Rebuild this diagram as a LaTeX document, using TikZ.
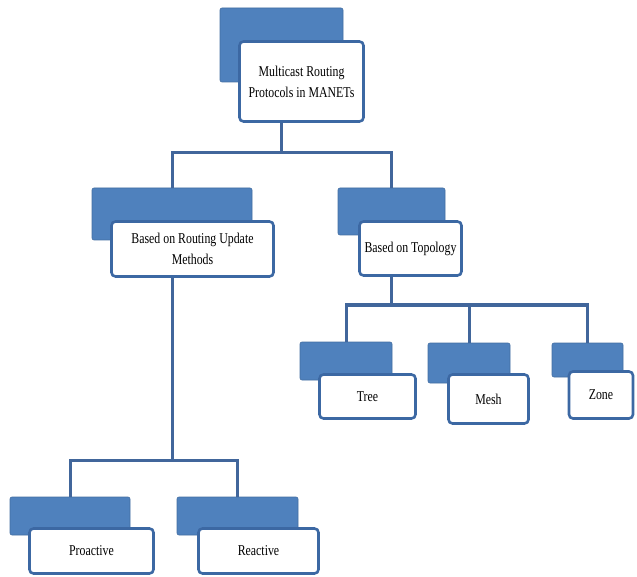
\documentclass[tikz,border=0pt]{standalone}
\usepackage{fontspec}
\usepackage{tikz}
\usetikzlibrary{calc, positioning}
\newfontfamily\boxfont[FakeStretch=0.79]{Liberation Serif}
\definecolor{boxblue}{HTML}{4F81BD}
\definecolor{edgeblue}{HTML}{3C68A3}
\definecolor{linkblue}{HTML}{41669B}

\begin{document}
\begin{tikzpicture}[x=1pt,y=-1pt,semithick,link/.style={draw=linkblue,line width=3pt}]
	\tikzset{back/.style={fill=boxblue,draw=boxblue!85!black,line width=0.6pt,rounded corners=2pt,inner sep=0pt},
		front/.style={fill=white,draw=edgeblue,line width=2.6pt,rounded corners=4pt,inner sep=2pt,align=center,font=\boxfont\fontsize{15}{21}\selectfont}}
	\useasboundingbox (0,0) rectangle (637,577);
	\node[back, minimum width=123, minimum height=74] (b0) at (281.5,45) {};
	\node[front, minimum width=124, minimum height=80] (0) at (301.5,81.5) {Multicast Routing\\Protocols in MANETs};
	\node[back, minimum width=160, minimum height=52] (b1) at (172,214) {};
	\node[front, minimum width=162, minimum height=55] (1) at (192.5,249) {Based on Routing Update\\Methods};
	\node[back, minimum width=107, minimum height=47] (b2) at (391.5,211.5) {};
	\node[front, minimum width=102, minimum height=54] (2) at (410.5,248.5) {Based on Topology};
	\node[back, minimum width=92, minimum height=38] (b3) at (346,361) {};
	\node[front, minimum width=96, minimum height=44] (3) at (367.5,396.5) {Tree};
	\node[back, minimum width=82, minimum height=40] (b4) at (469,363) {};
	\node[front, minimum width=80, minimum height=49] (4) at (488.5,399) {Mesh};
	\node[back, minimum width=71, minimum height=34] (b5) at (587.5,360) {};
	\node[front, minimum width=64, minimum height=47] (5) at (601,395) {Zone};
	\node[back, minimum width=120, minimum height=38] (b6) at (70,516) {};
	\node[front, minimum width=124, minimum height=45] (6) at (91.5,551) {Proactive};
	\node[back, minimum width=121, minimum height=38] (b7) at (237.5,516) {};
	\node[front, minimum width=120, minimum height=45] (7) at (258.5,551) {Reactive};
	\coordinate (r0) at (0,153);
	\coordinate (r1) at (0,460);
	\coordinate (r2) at (0,305);
	\draw[link] (b0 |- 0.south) -- (b0 |- r0) -| (b1.north);
	\draw[link] (b0 |- r0) -| (b2.north);
	\draw[link] (b1 |- 1.south) -- (b1 |- r1) -| (b6.north);
	\draw[link] (b1 |- r1) -| (b7.north);
	\draw[link] (b2 |- 2.south) -- (b2 |- r2) -| (b3.north);
	\draw[link] (b2 |- r2) -| (b4.north);
	\draw[link] (b2 |- r2) -| (b5.north);
\end{tikzpicture}
\end{document}
